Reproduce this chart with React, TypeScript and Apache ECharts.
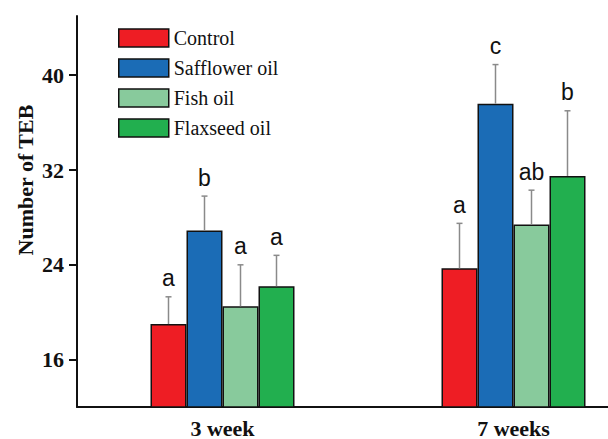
import React, { useEffect, useRef } from "react";
import * as echarts from "echarts";

const categories = ["3 week", "7 weeks"];
const seriesNames = ["Control", "Safflower oil", "Fish oil", "Flaxseed oil"];
const colors = ["#EE1D24", "#1B6CB6", "#88CA9C", "#22AF4F"];
const control = [19.0, 23.7];
const safflower = [26.9, 37.6];
const fish = [20.5, 27.4];
const flaxseed = [22.2, 31.5];
const controlErr = [2.3, 3.8];
const safflowerErr = [2.9, 3.3];
const fishErr = [3.5, 2.9];
const flaxseedErr = [2.6, 5.5];
const controlLetters = ["a", "a"];
const safflowerLetters = ["b", "c"];
const fishLetters = ["a", "ab"];
const flaxseedLetters = ["a", "b"];
const yTicks = [16, 24, 32, 40];

const values = [control, safflower, fish, flaxseed];
const errs = [controlErr, safflowerErr, fishErr, flaxseedErr];
const letters = [controlLetters, safflowerLetters, fishLetters, flaxseedLetters];

const BAR_W = 36;

export default function App() {
  const ref = useRef<HTMLDivElement>(null);
  useEffect(() => {
    if (!ref.current) return;
    const chart = echarts.init(ref.current, null, { renderer: "svg" });
    const errData: any[] = [];
    values.forEach((vals, s) => {
      vals.forEach((v, c) => {
        errData.push([c, v, errs[s][c], s, letters[s][c]]);
      });
    });
    const serif = "'Liberation Serif', serif";
    const legendText = { fontFamily: serif, fontSize: 20, color: "#111", fontWeight: "normal" };
    chart.setOption({
      animation: false,
      textStyle: { fontFamily: serif },
      grid: { left: 77, top: 16, width: 582, height: 391, outerBoundsMode: "none", containLabel: false },
      legend: {
        data: seriesNames.map((n) => ({ name: n, textStyle: legendText })),
        orient: "vertical",
        left: 118,
        top: 28,
        padding: 0,
        itemWidth: 50,
        itemHeight: 18,
        itemGap: 10,
        icon: "rect",
        itemStyle: { borderColor: "#111", borderWidth: 1.5 },
        textStyle: legendText,
      },
      xAxis: {
        type: "category",
        data: categories,
        axisLine: { lineStyle: { color: "#111", width: 2 } },
        axisTick: { alignWithLabel: true, length: 8, lineStyle: { color: "#111", width: 2 } },
        axisLabel: { fontFamily: serif, fontWeight: "bold", fontSize: 22, lineHeight: 22, color: "#111", margin: 10 },
      },
      yAxis: {
        type: "value",
        min: 12,
        max: 45,
        splitLine: { show: false },
        axisLine: { show: true, lineStyle: { color: "#111", width: 2 } },
        axisTick: { show: true, length: 8, customValues: yTicks, lineStyle: { color: "#111", width: 2 } },
        axisLabel: { customValues: yTicks, fontFamily: serif, fontWeight: "bold", fontSize: 22, color: "#111", margin: 13 },
      },
      graphic: [
        {
          type: "text",
          x: 25,
          y: 180,
          rotation: Math.PI / 2,
          style: {
            text: "Number of TEB",
            font: "bold 22px 'Liberation Serif'",
            fill: "#111",
            align: "center",
            verticalAlign: "middle",
          },
        },
      ],
      series: [
        ...seriesNames.map((name, i) => ({
          name,
          type: "bar",
          data: values[i],
          barWidth: BAR_W,
          barGap: "0%",
          itemStyle: { color: colors[i], borderColor: "#111", borderWidth: 1.5 },
        })),
        {
          type: "custom",
          data: errData,
          z: 10,
          renderItem: (params: any, api: any) => {
            const c = api.value(0);
            const v = api.value(1);
            const e = api.value(2);
            const s = api.value(3);
            const letter = errData[params.dataIndex][4];
            const base = api.coord([c, v]);
            const top = api.coord([c, v + e]);
            const x = base[0] + (s - 1.5) * BAR_W;
            const stroke = { stroke: "#8a8a8a", lineWidth: 1.5 };
            return {
              type: "group",
              children: [
                { type: "line", shape: { x1: x, y1: base[1], x2: x, y2: top[1] }, style: stroke },
                { type: "line", shape: { x1: x - 3, y1: top[1], x2: x + 3, y2: top[1] }, style: stroke },
                {
                  type: "text",
                  x: x,
                  y: top[1] - 7,
                  style: {
                    text: letter,
                    font: "23px 'Liberation Sans', Arial, sans-serif",
                    fill: "#111",
                    align: "center",
                    verticalAlign: "bottom",
                  },
                },
              ],
            };
          },
        },
      ],
    });
    return () => chart.dispose();
  }, []);
  return <div ref={ref} style={{ width: 608, height: 439, position: "absolute", left: 0, top: 0 }} />;
}
